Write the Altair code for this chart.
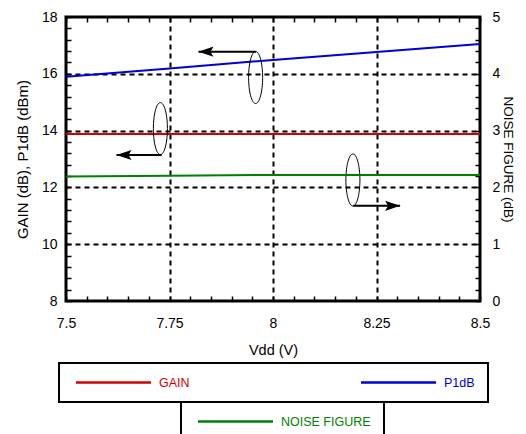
import altair as alt
import pandas as pd

# ---- data ----
vdd = [7.5, 7.75, 8.0, 8.25, 8.5]
gain = [13.88, 13.88, 13.88, 13.88, 13.88]
p1db = [15.90, 16.19, 16.49, 16.77, 17.05]
noise_figure = [2.19, 2.205, 2.22, 2.22, 2.22]

series_names = ["GAIN", "P1dB", "NOISE FIGURE"]
series_colors = ["#d40000", "#0000d8", "#008000"]

x_tick_values = [round(7.5 + 0.05 * i, 2) for i in range(21)]
x_label_values = [7.5, 7.75, 8.0, 8.25, 8.5]
x_grid_values = [7.75, 8.0, 8.25]
y_tick_values = [round(8 + 0.4 * i, 1) for i in range(26)]
y_label_values = [8, 10, 12, 14, 16, 18]
y_grid_values = [10, 12, 14, 16]
nf_tick_values = [round(0.2 * i, 1) for i in range(26)]
nf_label_values = [0, 1, 2, 3, 4, 5]

# annotations (ellipse groups + arrows), in data units
ell_vdd = [7.958, 7.728, 8.193]
ell_gain = [15.87, 14.07, 12.26]
arr_start = [7.959, 7.731, 8.194]
arr_end = [7.820, 7.622, 8.307]
arr_gain = [16.78, 13.14, 11.35]
arr_dir = ["left", "left", "right"]

FONT = "Liberation Sans"

df_gp = pd.DataFrame({
    "Vdd": vdd * 2,
    "value": gain + p1db,
    "series": [series_names[0]] * len(vdd) + [series_names[1]] * len(vdd),
})
df_nf = pd.DataFrame({"Vdd": vdd, "nf": noise_figure, "series": [series_names[2]] * len(vdd)})
df_ell = pd.DataFrame({"Vdd": ell_vdd, "value": ell_gain})
df_arr = pd.DataFrame({"Vdd": arr_start, "x2": arr_end, "value": arr_gain, "dir": arr_dir})
df_head = pd.DataFrame({"Vdd": arr_end, "value": arr_gain, "dir": arr_dir})


def in_list(vals):
    return "indexof([" + ",".join(str(v) for v in vals) + "], datum.value) >= 0"


xscale = alt.Scale(domain=[7.5, 8.5], nice=False, zero=False)
yscale = alt.Scale(domain=[8, 18], nice=False, zero=False)
nfscale = alt.Scale(domain=[0, 5], nice=False, zero=False)

grid_common = dict(gridColor="black", gridDash=[5, 4], gridWidth=2)
tick_common = dict(tickSize=5, offset=-5, tickColor="black", tickWidth=1.5, domain=False,
                   labelFlush=False, labelOverlap=False,
                   labelFont=FONT, labelFontSize=14, labelColor="black",
                   titleFont=FONT, titleFontWeight="normal", titleColor="black")

bottom_axis = alt.Axis(
    orient="bottom", values=x_tick_values, title="Vdd (V)", titleFontSize=14.5,
    labelExpr=in_list(x_label_values) + " ? toString(datum.value) : ''",
    labelPadding=15, titlePadding=13, grid=True,
    gridOpacity={"condition": {"test": in_list(x_grid_values), "value": 1}, "value": 0},
    **grid_common, **tick_common)
top_axis = alt.Axis(orient="top", values=x_tick_values, title=None, labels=False, grid=False,
                    **tick_common)
left_axis = alt.Axis(
    orient="left", values=y_tick_values, title="GAIN (dB), P1dB (dBm)", titleFontSize=15,
    labelExpr=in_list(y_label_values) + " ? toString(datum.value) : ''",
    labelPadding=9, titlePadding=11, grid=True,
    gridOpacity={"condition": {"test": in_list(y_grid_values), "value": 1}, "value": 0},
    **grid_common, **tick_common)
right_axis = alt.Axis(
    orient="right", values=nf_tick_values, title="NOISE FIGURE (dB)", titleFontSize=13.5,
    labelExpr=in_list(nf_label_values) + " ? toString(datum.value) : ''",
    labelPadding=12, titlePadding=1, grid=False, titleAngle=90, **tick_common)

legend_common = dict(
    orient="none", direction="horizontal", title=None, padding=13,
    symbolType="M-0.5,0H14.5", symbolSize=100, symbolStrokeWidth=2.5,
    labelOffset=74, labelFont=FONT, labelFontSize=12.5, strokeColor="black",
)

X = alt.X("Vdd:Q", scale=xscale, axis=bottom_axis)
Y = alt.Y("value:Q", scale=yscale, axis=left_axis)

lines_gp = alt.Chart(df_gp).mark_line(strokeWidth=2).encode(
    x=X, y=Y,
    color=alt.Color("series:N",
                    scale=alt.Scale(domain=series_names[:2], range=series_colors[:2]),
                    legend=alt.Legend(legendX=-7, legendY=346, columnPadding=166,
                                      labelColor={"expr": "datum.label == 'GAIN' ? '%s' : '%s'"
                                                  % (series_colors[0], series_colors[1])},
                                      **legend_common)),
)

ELLIPSE = ("M0,-1C0.149,-1 0.27,-0.552 0.27,0C0.27,0.552 0.149,1 0,1"
           "C-0.149,1 -0.27,0.552 -0.27,0C-0.27,-0.552 -0.149,-1 0,-1Z")
ellipses = alt.Chart(df_ell).mark_point(
    shape=ELLIPSE, size=2704, filled=False, color="black", strokeWidth=1, opacity=1
).encode(x=X, y=Y)

arrows = alt.Chart(df_arr).mark_rule(color="black", strokeWidth=2).encode(
    x=X, x2="x2:Q", y=Y,
)

HEAD_LEFT = "M0,0L2,-0.67L1.6,0L2,0.67Z"
HEAD_RIGHT = "M0,0L-2,-0.67L-1.6,0L-2,0.67Z"
heads = alt.Chart(df_head).mark_point(filled=True, color="black", size=225, opacity=1,
                                      strokeWidth=0).encode(
    x=X, y=Y,
    shape=alt.Shape("dir:N", scale=alt.Scale(domain=["left", "right"],
                                             range=[HEAD_LEFT, HEAD_RIGHT]), legend=None),
)

line_nf = alt.Chart(df_nf).mark_line(strokeWidth=2).encode(
    x=alt.X("Vdd:Q", scale=xscale, axis=top_axis),
    y=alt.Y("nf:Q", scale=nfscale, axis=right_axis),
    stroke=alt.Stroke("series:N",
                      scale=alt.Scale(domain=series_names[2:], range=series_colors[2:]),
                      legend=alt.Legend(legendX=115, legendY=385, labelColor=series_colors[2],
                                        **legend_common)),
)

left_layer = alt.layer(lines_gp, ellipses, arrows, heads)

chart = alt.layer(left_layer, line_nf).resolve_scale(
    y="independent"
).resolve_axis(
    x="independent", y="independent"
).properties(
    width=414, height=284,
    padding={"left": 58, "top": 9, "right": 38, "bottom": 133},
    autosize=alt.AutoSizeParams(type="none"),
).configure(
    font=FONT
).configure_view(
    stroke="black", strokeWidth=3
).configure_legend(
    strokeWidth=2
)

chart.save("out.html", embed_options={"renderer": "svg", "actions": False})
